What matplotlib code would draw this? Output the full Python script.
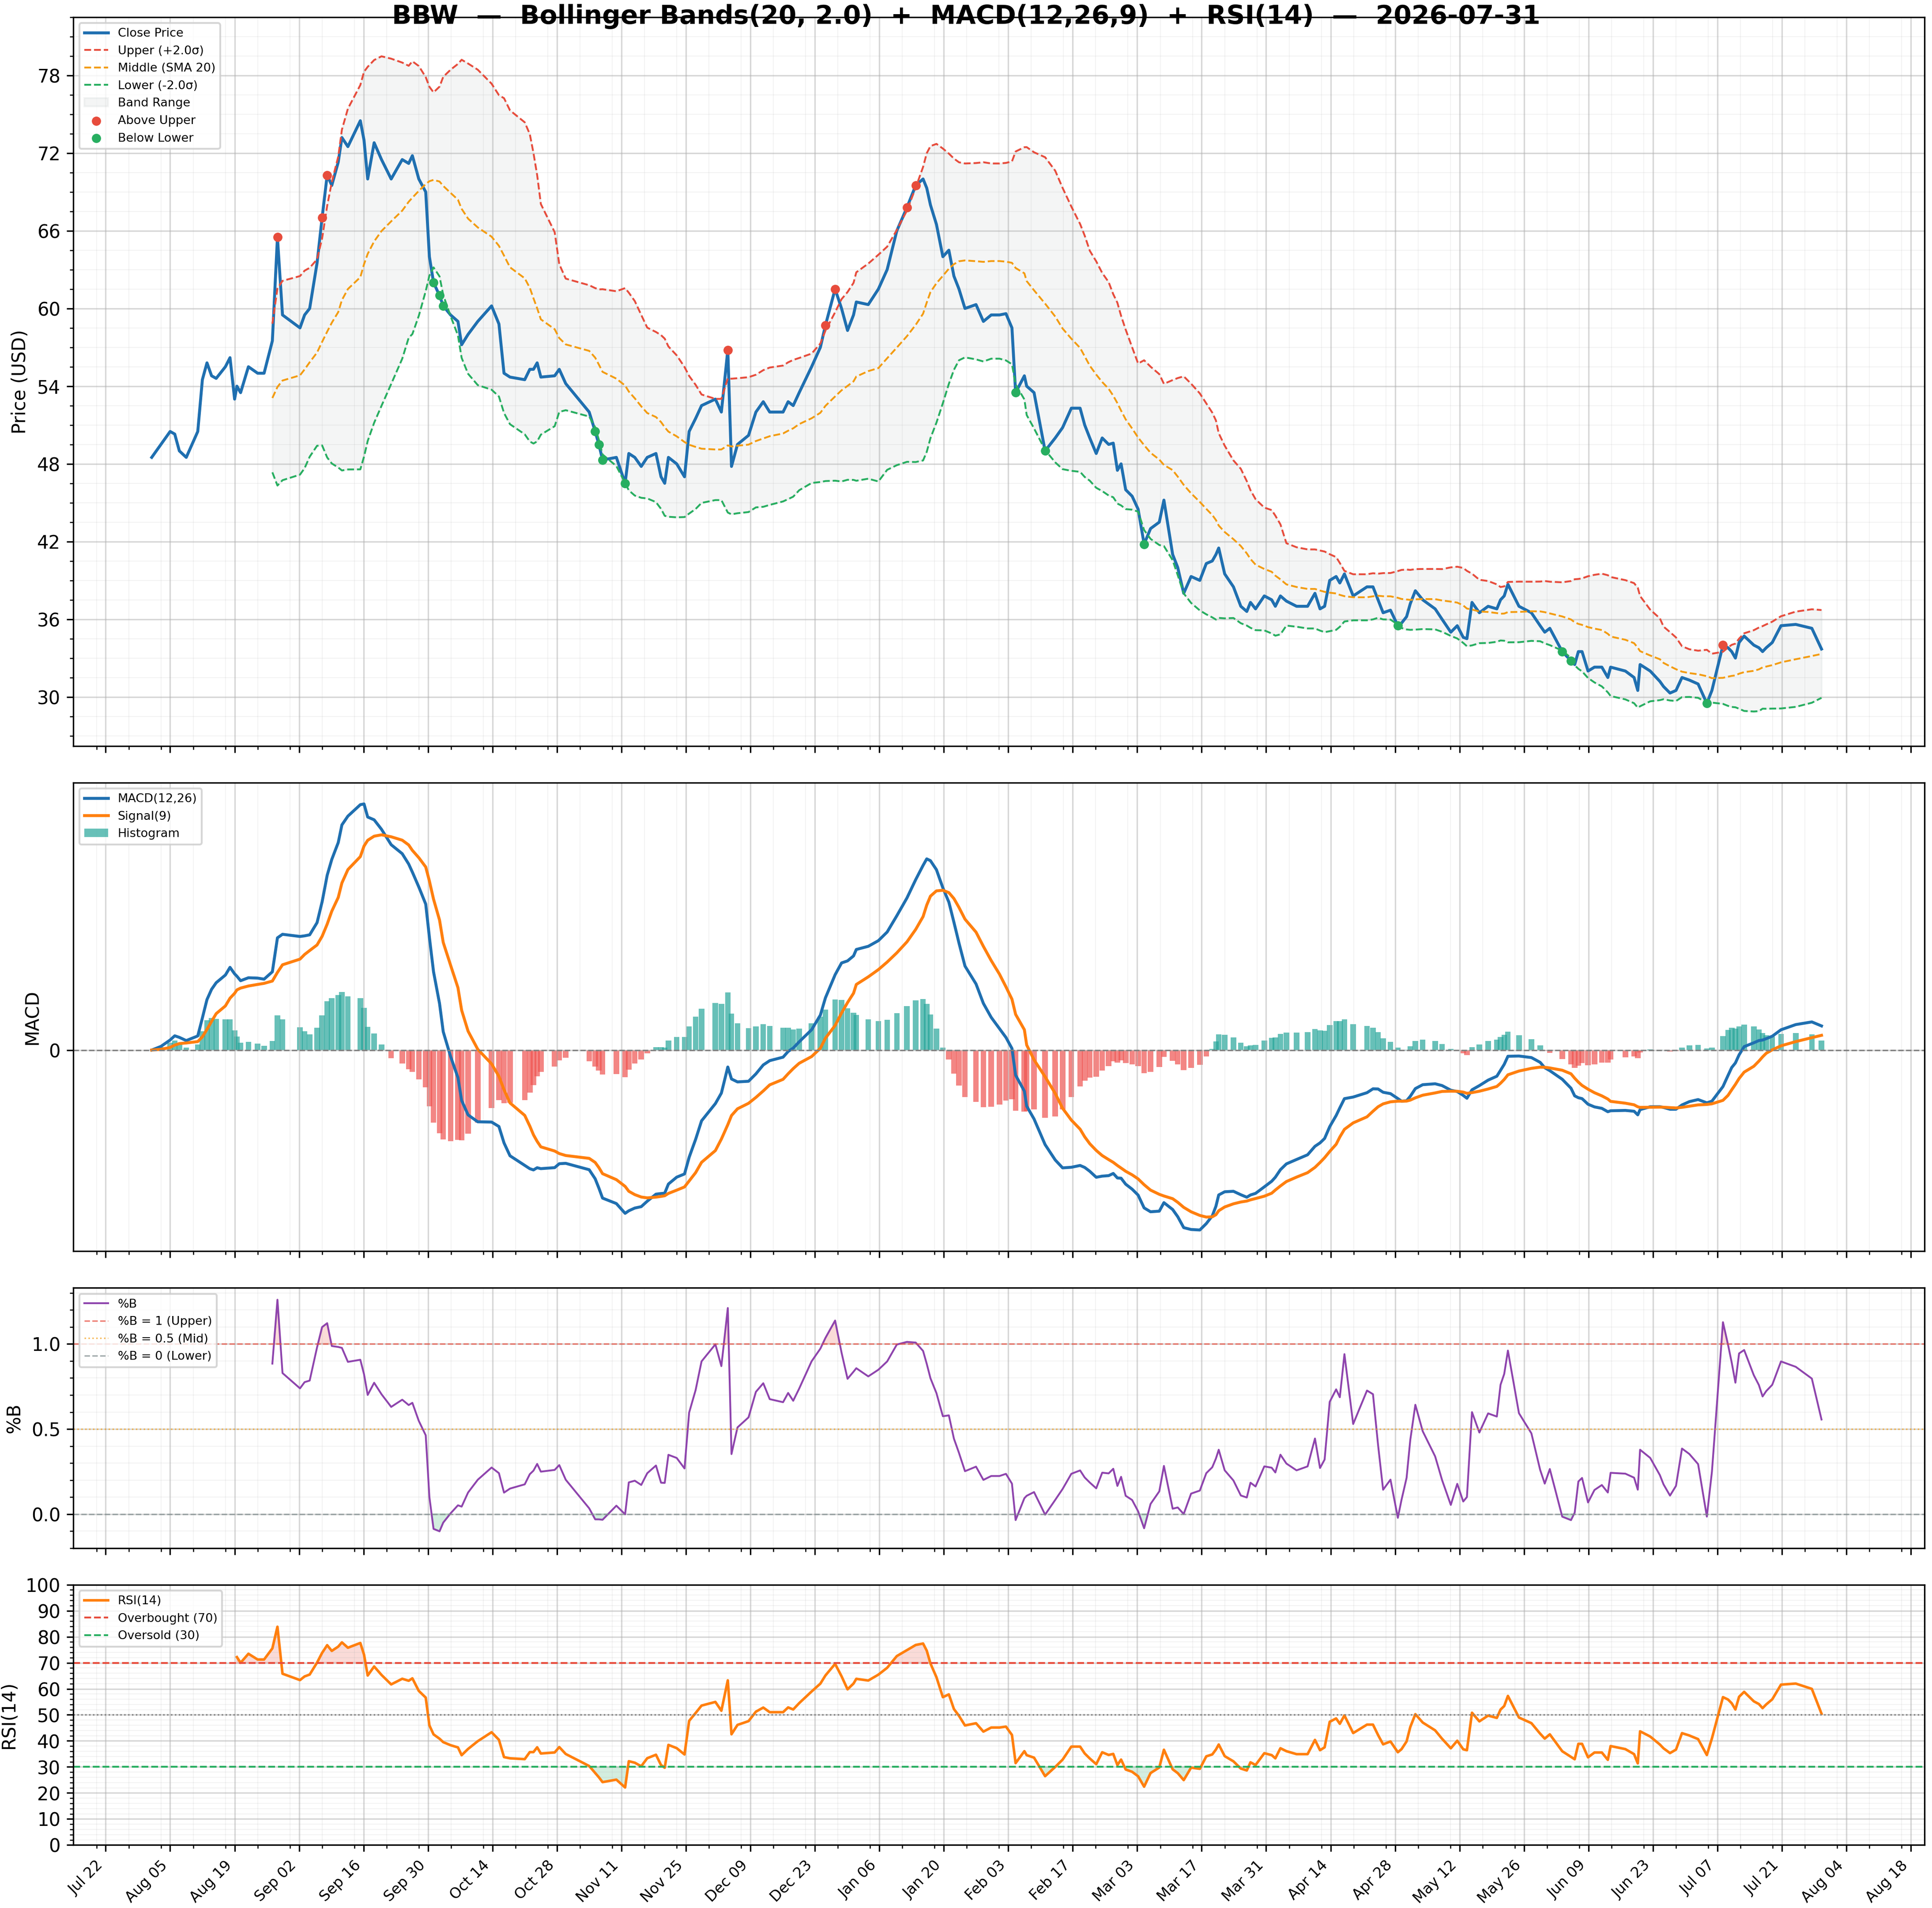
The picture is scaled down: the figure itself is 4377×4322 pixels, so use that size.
import numpy as np
import pandas as pd
import matplotlib
matplotlib.use("Agg")
import matplotlib.pyplot as plt
import matplotlib.dates as mdates

start = pd.Timestamp("2025-07-22")
day_offset = [10,12,14,15,16,17.5,20,21,22,23,24,26,27,28,28.5,29.3,31,33,34.4,36.2,37.3,38.4,42.2,43.2,44.3,45.9,47,48.1,49.1,50.5,51.3,52.6,55.3,56.1,56.9,58.3,59.9,62,64.4,65.8,66.6,68,69.5,70.3,71.2,72.5,73.3,74.9,76.5,77.3,78.7,80.8,83.8,85.4,86.5,87.8,91,92.1,92.9,93.7,94.5,97.5,98.5,99.9,105,106.3,107.1,107.9,110.9,112.8,113.6,114.9,116.3,117.6,119.5,120.6,121.4,122.2,124,125.7,126.7,128.1,129.4,132.4,133.7,135.1,135.9,137.2,139.6,141.2,142.8,144.2,147.1,148.2,149.3,150.6,153.3,155.2,156.3,158.4,159.8,161.1,162.4,163,165.6,167.8,169.7,171.8,174,175.9,177.5,178.3,179.1,180.4,181.8,183.1,184.2,185.3,186.6,189,190.6,192.3,194.1,195.5,196.8,197.6,199.5,200,201.6,204,206.2,207.8,209.7,211.6,212.6,213.7,215.1,216.4,217.8,218.8,219.7,220.5,221.5,222.9,224.2,225.5,226.9,228.8,229.8,231.7,232.8,234.1,235.7,237.6,239,240.3,241.1,241.7,243,244.9,246.5,247.8,248.6,249.7,251.6,253.2,254,255.1,256.4,258.6,261,262.6,263.7,264.7,265.8,267.2,268,269,270.9,273.9,275.2,276.3,277.4,279,280.6,281.4,282.5,283.3,284.4,286,288.7,290.2,292.1,293.5,294.8,295.6,296.7,298.3,300.2,302.1,302.9,303.7,304.5,306.9,309.6,311.5,312.5,313.6,316.3,318.2,319,319.8,320.6,321.9,323.3,324.9,326.2,326.8,330,331.9,332.7,333.2,335.4,337.5,338.3,339.7,341,342.3,343.9,345.8,347.7,348.8,351.2,352.3,353.1,353.9,354.7,355.8,357.9,359,359.8,360.6,361.9,363.8,367,370.5,372.6,373.2,374,375.3,376.4,377.2]
close = [48.5,49.5,50.5,50.3,49,48.5,50.5,54.5,55.8,54.8,54.6,55.5,56.2,53,54,53.5,55.5,55,55,57.5,65.5,59.5,58.5,59.5,60,63.5,67,70.3,69.5,71.3,73.2,72.5,74.5,73,70,72.8,71.5,70,71.5,71.2,71.8,70,69,64,62,61,60.2,59.5,59,57.2,58,59,60.2,58.8,55,54.7,54.5,55.3,55.3,55.8,54.7,54.8,55.3,54.2,52,50.5,49.5,48.3,48.5,46.5,48.8,48.5,47.8,48.5,48.8,47,46.5,48.5,48,47,50.5,51.5,52.5,53,52,56.8,47.8,49.5,50.2,52,52.8,52,52,52.8,52.5,53.5,55.5,57,58.7,61.5,60,58.3,59.5,60.5,60.3,61.5,63,66,67.8,69.5,70,69.3,68,66.5,64,64.5,62.5,61.5,60,60.3,59,59.5,59.5,59.6,58.5,53.5,54.8,54,53.5,49,50,50.8,52.3,52.3,51,50,48.8,50,49.5,49.6,47.5,48,46,45.5,44.5,41.8,43,43.5,45.2,41,40,38,39.3,39,40.3,40.5,41,41.5,39.5,38.5,37,36.6,37.3,36.8,37.8,37.5,37,37.8,37.4,37,37,38,36.8,37,39,39.3,38.8,39.5,37.8,38.5,38.5,37.5,36.5,36.7,35.5,35.7,36.2,37.2,38.2,37.5,36.8,36,35,35.5,34.6,34.5,37.3,36.5,37,36.8,37.5,37.8,38.7,37,36.5,35.5,35,35.3,33.5,32.8,32.5,33.5,33.5,32,32.3,32.3,31.5,32.3,32,31.5,30.5,32.5,32,31.2,30.8,30.3,30.5,31.5,31.3,31,29.5,30.5,34,33.8,33.5,33,34.2,34.7,34,33.8,33.5,33.8,34.2,35.5,35.6,35.3,33.7]

n = min(len(day_offset), len(close))
dates = pd.DatetimeIndex([start + pd.Timedelta(days=float(d)) for d in day_offset[:n]])
s = pd.Series(close[:n], index=dates)

mid = s.rolling(20).mean()
sd = s.rolling(20).std()
up = mid + 2 * sd
lo = mid - 2 * sd
pctb = (s - lo) / (up - lo)
ema12 = s.ewm(span=12, adjust=False).mean()
ema26 = s.ewm(span=26, adjust=False).mean()
macd = ema12 - ema26
sig = macd.ewm(span=9, adjust=False).mean()
hist = macd - sig
delta = s.diff()
gain = delta.clip(lower=0).ewm(alpha=1/14, adjust=False).mean()
loss = (-delta.clip(upper=0)).ewm(alpha=1/14, adjust=False).mean()
rsi = 100 - 100 / (1 + gain / loss)
rsi.iloc[:14] = np.nan

fig, axes = plt.subplots(4, 1, figsize=(14.593, 14.407), dpi=300, sharex=True,
                         gridspec_kw=dict(height_ratios=[2.8, 1.8, 1, 1]))
ax1, ax2, ax3, ax4 = axes
fig.subplots_adjust(left=0.038, right=0.996, top=0.991, bottom=0.033, hspace=0.085)

ax1.plot(s.index, s, color="#1f6fb0", lw=1.6, label="Close Price")
ax1.plot(up.index, up, "--", color="#e74c3c", lw=1, label="Upper (+2.0σ)")
ax1.plot(mid.index, mid, "--", color="#f39c12", lw=1, label="Middle (SMA 20)")
ax1.plot(lo.index, lo, "--", color="#27ae60", lw=1, label="Lower (-2.0σ)")
ax1.fill_between(s.index, lo, up, color="#95a5a6", alpha=0.1, label="Band Range")
au = s > up
bl = s < lo
ax1.scatter(s.index[au], s[au], color="#e74c3c", s=16, zorder=5, label="Above Upper")
ax1.scatter(s.index[bl], s[bl], color="#27ae60", s=16, zorder=5, label="Below Lower")
ax1.set_ylabel("Price (USD)")
ax1.set_yticks(range(30, 80, 6))
ax1.set_ylim(26.2, 82.5)
ax1.legend(loc="upper left", fontsize=6.5)

ax2.plot(macd.index, macd, color="#1f6fb0", lw=1.6, label="MACD(12,26)")
ax2.plot(sig.index, sig, color="#ff7f0e", lw=1.6, label="Signal(9)")
colors = np.where(hist >= 0, "#26a69a", "#ef5350")
ax2.bar(hist.index, hist, width=1.2, color=colors, alpha=0.7, label="Histogram")
ax2.axhline(0, color="gray", ls="--", lw=0.8)
ax2.set_yticks([0])
ax2.set_ylabel("MACD")
ax2.legend(loc="upper left", fontsize=6.5)

ax3.plot(pctb.index, pctb, color="#8e44ad", lw=1, label="%B")
ax3.axhline(1, color="#e74c3c", ls="--", lw=0.8, alpha=0.7, label="%B = 1 (Upper)")
ax3.axhline(0.5, color="#f39c12", ls=":", lw=0.8, alpha=0.7, label="%B = 0.5 (Mid)")
ax3.axhline(0, color="#7f8c8d", ls="--", lw=0.8, alpha=0.7, label="%B = 0 (Lower)")
ax3.fill_between(pctb.index, pctb, 1, where=pctb > 1, color="#e74c3c", alpha=0.2, interpolate=True)
ax3.fill_between(pctb.index, pctb, 0, where=pctb < 0, color="#27ae60", alpha=0.2, interpolate=True)
ax3.set_ylim(-0.2, 1.33)
ax3.set_yticks([0, 0.5, 1.0])
ax3.set_ylabel("%B")
ax3.legend(loc="upper left", fontsize=6.5)

ax4.plot(rsi.index, rsi, color="#ff7f0e", lw=1.4, label="RSI(14)")
ax4.axhline(70, color="#e74c3c", ls="--", lw=1, label="Overbought (70)")
ax4.axhline(30, color="#27ae60", ls="--", lw=1, label="Oversold (30)")
ax4.axhline(50, color="gray", ls=":", lw=0.8)
ax4.fill_between(rsi.index, rsi, 70, where=rsi > 70, color="#e74c3c", alpha=0.2, interpolate=True)
ax4.fill_between(rsi.index, rsi, 30, where=rsi < 30, color="#27ae60", alpha=0.2, interpolate=True)
ax4.set_ylim(0, 100)
ax4.set_yticks(range(0, 101, 10))
ax4.set_ylabel("RSI(14)")
ax4.legend(loc="upper left", fontsize=6.5)

ticks = pd.date_range("2025-07-22", periods=29, freq="14D")
for ax in axes:
    ax.grid(True, which="major", alpha=0.5)
    ax.minorticks_on()
    ax.grid(True, which="minor", alpha=0.15, lw=0.5)
ax4.set_xticks(ticks)
ax4.xaxis.set_major_formatter(mdates.DateFormatter("%b %d"))
ax4.xaxis.set_minor_locator(mdates.DayLocator(interval=7))
ax4.set_xlim(pd.Timestamp("2025-07-15"), pd.Timestamp("2026-08-21"))
plt.setp(ax4.get_xticklabels(), rotation=45, ha="right", fontsize=8)

fig.suptitle("BBW  —  Bollinger Bands(20, 2.0)  +  MACD(12,26,9)  +  RSI(14)  —  2026-07-31",
             fontsize=14, fontweight="bold", y=0.998)
fig.savefig("out.png", dpi=300)
